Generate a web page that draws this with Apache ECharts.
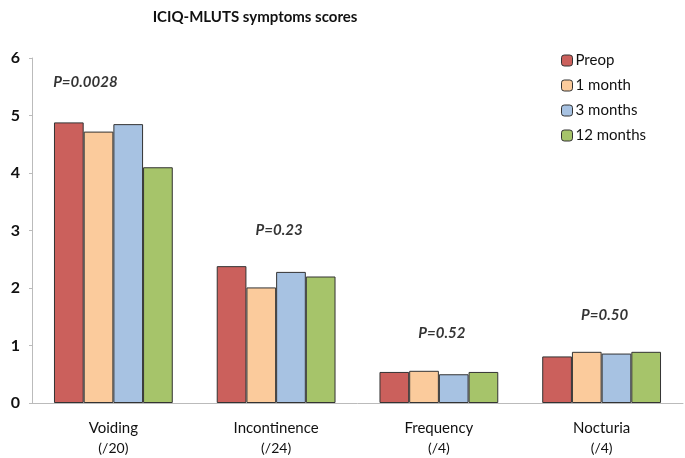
<!DOCTYPE html>
<html><head><meta charset="utf-8">
<script src="https://cdn.jsdelivr.net/npm/echarts@6/dist/echarts.min.js"></script>
<style>html,body{margin:0;padding:0;background:#fff}#c{width:685px;height:458px}</style>
</head><body><div id="c"></div>
<script>
var categories = ['Voiding', 'Incontinence', 'Frequency', 'Nocturia'];
var subLabels = ['(/20)', '(/24)', '(/4)', '(/4)'];
var seriesNames = ['Preop', '1 month', '3 months', '12 months'];
var preop = [4.88, 2.38, 0.54, 0.81];
var month1 = [4.72, 2.01, 0.56, 0.89];
var month3 = [4.85, 2.28, 0.50, 0.86];
var month12 = [4.10, 2.20, 0.54, 0.89];
var pLabels = ['P=0.0028', 'P=0.23', 'P=0.52', 'P=0.50'];
var pLabelY = [5.58, 3.01, 1.22, 1.53];
var yTicks = [0, 1, 2, 3, 4, 5, 6];

var colors = ['#CB605C', '#FBCB9C', '#A7C2E2', '#A6C46A'];
var font = 'Lato, "Liberation Sans", sans-serif';
var allValues = [preop, month1, month3, month12];

var series = seriesNames.map(function (n, i) {
  return {
    name: n, type: 'bar', data: allValues[i],
    barGap: '0%', barCategoryGap: '27%',
    itemStyle: { color: colors[i], borderColor: '#333', borderWidth: 1 }
  };
});
series.push({
  type: 'scatter', name: 'p', symbolSize: 0, silent: true,
  data: categories.map(function (c, i) { return [c, pLabelY[i], pLabels[i]]; }),
  label: {
    show: true, position: 'inside',
    formatter: function (p) { return p.value[2]; },
    fontFamily: font, fontStyle: 'italic', fontWeight: 'bold', fontSize: 15, color: '#000'
  },
  labelLayout: function (params) {
    if (params.dataIndex === 0) { return { dx: -28 }; }
    return { dx: 3 };
  }
});

var chart = echarts.init(document.getElementById('c'));
chart.setOption({
  animation: false,
  title: {
    text: 'ICIQ-MLUTS symptoms scores', left: 250, top: 5, textAlign: 'center',
    textStyle: { fontFamily: font, fontWeight: 'bold', fontSize: 15, color: '#111' }
  },
  legend: {
    orient: 'vertical', left: 556, top: 48, itemWidth: 11, itemHeight: 11, itemGap: 10,
    data: seriesNames,
    itemStyle: { borderColor: '#333', borderWidth: 1 },
    textStyle: { fontFamily: font, fontSize: 15, color: '#111', padding: [0, 0, 0, -2] }
  },
  grid: { left: 32, right: 2, top: 58, bottom: 55, containLabel: false },
  xAxis: {
    type: 'category', data: categories,
    axisLine: { lineStyle: { color: '#bbb' } },
    axisTick: { show: false },
    axisLabel: {
      margin: 15, interval: 0,
      formatter: function (v, i) { return '{a|' + v + '}\n{b|' + subLabels[i] + '}'; },
      rich: {
        a: { fontFamily: font, fontSize: 15, color: '#111', lineHeight: 20 },
        b: { fontFamily: font, fontSize: 14, color: '#111', lineHeight: 20 }
      }
    }
  },
  yAxis: {
    type: 'value', min: 0, max: 6, interval: 1,
    axisLine: { show: true, lineStyle: { color: '#bbb' } },
    axisTick: { show: true, length: 3, lineStyle: { color: '#bbb' } },
    splitLine: { show: false },
    axisLabel: {
      margin: 12, fontFamily: font, fontWeight: 'bold', fontSize: 16, color: '#111',
      formatter: function (v) { return yTicks.indexOf(v) >= 0 ? String(v) : ''; }
    }
  },
  series: series
});
</script></body></html>
